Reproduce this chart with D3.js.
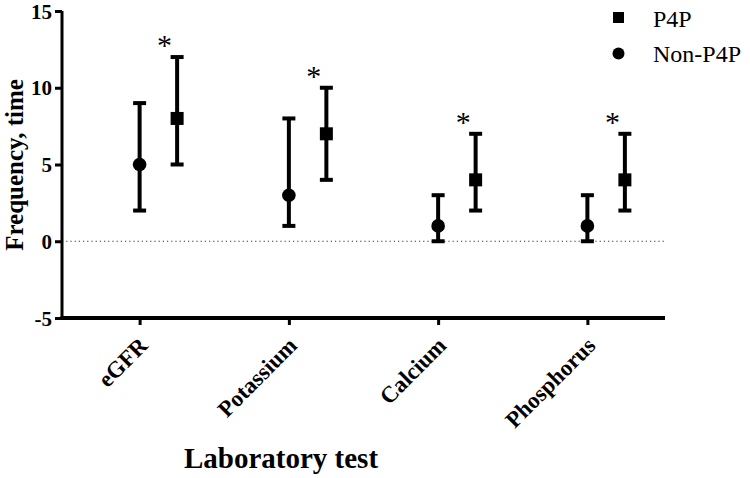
<!DOCTYPE html>
<html><head><meta charset="utf-8">
<script src="https://cdn.jsdelivr.net/npm/d3@7"></script>
<style>body{margin:0;background:#fff}svg{display:block}text{font-family:"Liberation Serif","Times New Roman",serif}</style>
</head><body>
<svg id="c" width="750" height="478"></svg>
<script>
const categories = ["eGFR","Potassium","Calcium","Phosphorus"];
const p4pMean = [8,7,4,4];
const p4pLow = [5,4,2,2];
const p4pHigh = [12,10,7,7];
const nonMean = [5,3,1,1];
const nonLow = [2,1,0,0];
const nonHigh = [9,8,3,3];
const significant = [true,true,true,true];
const yTicks = [-5,0,5,10,15];

const svg = d3.select("#c");
const x0 = 62, x1 = 665, yTop = 11, yBot = 318;
const x = d3.scalePoint().domain(categories).range([x0,x1]).padding(0.52);
const y = d3.scaleLinear().domain([-5,15]).range([yBot,yTop]);
const off = 37.5;

// zero dotted line
svg.append("line").attr("x1",x0).attr("x2",x1).attr("y1",y(0)).attr("y2",y(0))
  .attr("stroke","#333").attr("stroke-width",1).attr("stroke-dasharray","1.2,3");

// y axis
const ya = svg.append("g").attr("transform",`translate(${x0},0)`)
  .call(d3.axisLeft(y).tickValues(yTicks).tickSize(7).tickPadding(3).tickFormat(d=>String(d)));
ya.select(".domain").attr("stroke","#000").attr("stroke-width",3).attr("d",`M0,${yTop}V${yBot}`);
ya.selectAll(".tick line").attr("stroke","#000").attr("stroke-width",3);
ya.selectAll(".tick text").attr("font-size",21).attr("font-weight","bold").attr("fill","#000")
  .attr("font-family","Liberation Serif").attr("dy","0.34em");

// x axis
const xa = svg.append("g").attr("transform",`translate(0,${yBot})`)
  .call(d3.axisBottom(x).tickSize(7).tickPadding(2));
xa.select(".domain").attr("stroke","#000").attr("stroke-width",4).attr("d",`M${x0-1.5},0H${x1}`);
xa.selectAll(".tick line").attr("stroke","#000").attr("stroke-width",3);
xa.selectAll(".tick text").attr("font-size",23).attr("font-weight","bold").attr("fill","#000")
  .attr("font-family","Liberation Serif")
  .attr("text-anchor","end").attr("dy",0).attr("y",0)
  .attr("transform","translate(9,29) rotate(-45)");

// axis titles
svg.append("text").attr("transform","translate(23,165) rotate(-90)").attr("text-anchor","middle")
  .attr("font-size",25).attr("font-weight","bold").text("Frequency, time");
svg.append("text").attr("x",281).attr("y",468).attr("text-anchor","middle")
  .attr("font-size",29).attr("font-weight","bold").text("Laboratory test");

function series(mean, lo, hi, dx, shape){
  const g = svg.append("g");
  categories.forEach((c,i)=>{
    const cx = x(c)+dx;
    g.append("line").attr("x1",cx).attr("x2",cx).attr("y1",y(lo[i])).attr("y2",y(hi[i]))
      .attr("stroke","#000").attr("stroke-width",4);
    [lo[i],hi[i]].forEach(v=>g.append("line").attr("x1",cx-6.5).attr("x2",cx+6.5)
      .attr("y1",y(v)).attr("y2",y(v)).attr("stroke","#000").attr("stroke-width",4));
    if(shape==="circle") g.append("circle").attr("cx",cx).attr("cy",y(mean[i])).attr("r",6.8).attr("fill","#000");
    else g.append("rect").attr("x",cx-6.5).attr("y",y(mean[i])-6.5).attr("width",13).attr("height",13).attr("fill","#000");
  });
}
series(nonMean,nonLow,nonHigh,0,"circle");
series(p4pMean,p4pLow,p4pHigh,off,"square");

// asterisks
categories.forEach((c,i)=>{
  if(significant[i]) svg.append("text").attr("x",x(c)+25).attr("y",y(p4pHigh[i])-2)
    .attr("text-anchor","middle").attr("font-size",30).text("*");
});

// legend
const lg = svg.append("g");
lg.append("rect").attr("x",613).attr("y",12).attr("width",11).attr("height",11).attr("fill","#000");
lg.append("text").attr("x",653).attr("y",27).attr("font-size",24).text("P4P");
lg.append("circle").attr("cx",618.5).attr("cy",53.5).attr("r",6).attr("fill","#000");
lg.append("text").attr("x",653).attr("y",62).attr("font-size",24).text("Non-P4P");
</script>
</body></html>
